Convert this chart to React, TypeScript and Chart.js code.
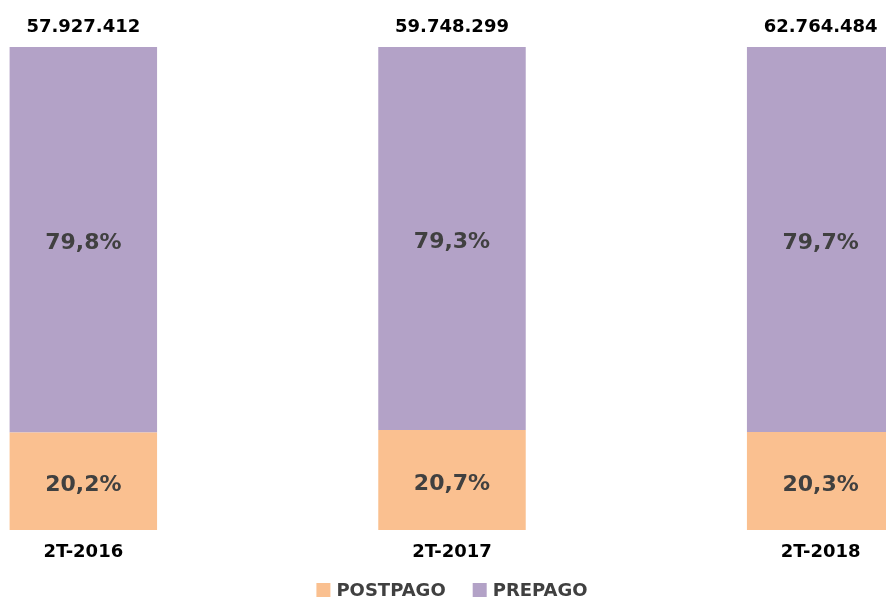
import React, { useEffect, useRef } from "react";
import { Chart, registerables } from "chart.js";

Chart.register(...registerables);

const categories = ["2T-2016", "2T-2017", "2T-2018"];
const postpago = [20.2, 20.7, 20.3];
const prepago = [79.8, 79.3, 79.7];
const totals = [57927412, 59748299, 62764484];
const seriesNames = ["POSTPAGO", "PREPAGO"];
const seriesColors = ["#FAC090", "#B3A2C7"];

const FONT = "'DejaVu Sans', sans-serif";

const fmtPct = (v: number) => v.toFixed(1).replace(".", ",") + "%";
const fmtTotal = (v: number) => String(v).replace(/\B(?=(\d{3})+(?!\d))/g, ".");

const labelsPlugin = {
  id: "customLabels",
  afterDatasetsDraw(chart: any) {
    const ctx = chart.ctx;
    ctx.save();
    ctx.textAlign = "center";
    ctx.textBaseline = "middle";
    // in-bar labels
    ctx.font = `bold 22px ${FONT}`;
    ctx.fillStyle = "#404040";
    chart.data.datasets.forEach((ds: any, di: number) => {
      const meta = chart.getDatasetMeta(di);
      meta.data.forEach((bar: any, i: number) => {
        const y = (bar.y + bar.base) / 2 + 4;
        ctx.fillText(fmtPct(ds.data[i]), bar.x, y);
      });
    });
    // totals
    const topMeta = chart.getDatasetMeta(chart.data.datasets.length - 1);
    ctx.font = `bold 18px ${FONT}`;
    ctx.fillStyle = "#000000";
    topMeta.data.forEach((bar: any, i: number) => {
      ctx.fillText(fmtTotal(totals[i]), bar.x, bar.y - 20);
    });
    // category labels
    const xs = chart.scales.x;
    const bottom = chart.chartArea.bottom;
    ctx.font = `bold 18px ${FONT}`;
    categories.forEach((c, i) => {
      ctx.fillText(c, xs.getPixelForValue(i), bottom + 22);
    });
    // legend
    ctx.font = `bold 18px ${FONT}`;
    const box = 14;
    const gapBox = 6;
    const gapItem = 27;
    const widths = seriesNames.map((n) => ctx.measureText(n).width);
    const total = widths.reduce((a, w) => a + box + gapBox + w, 0) + gapItem * (seriesNames.length - 1);
    const cx = (chart.chartArea.left + chart.chartArea.right) / 2;
    let x = cx - total / 2;
    const ly = bottom + 60;
    ctx.textAlign = "left";
    seriesNames.forEach((n, i) => {
      ctx.fillStyle = seriesColors[i];
      ctx.fillRect(x, ly - box / 2, box, box);
      x += box + gapBox;
      ctx.fillStyle = "#404040";
      ctx.fillText(n, x, ly + 1);
      x += widths[i] + gapItem;
    });
    ctx.restore();
  },
};

export default function App() {
  const ref = useRef<HTMLCanvasElement>(null);
  useEffect(() => {
    if (!ref.current) return;
    const chart = new Chart(ref.current, {
      type: "bar",
      data: {
        labels: categories,
        datasets: [
          { label: seriesNames[0], data: postpago, backgroundColor: seriesColors[0], borderWidth: 0 },
          { label: seriesNames[1], data: prepago, backgroundColor: seriesColors[1], borderWidth: 0 },
        ],
      },
      options: {
        animation: false,
        responsive: false,
        devicePixelRatio: 1,
        layout: { padding: { left: 0, right: 0, top: 47, bottom: 70 } },
        datasets: { bar: { barPercentage: 0.4, categoryPercentage: 1 } },
        scales: {
          x: { stacked: true, display: false },
          y: { stacked: true, display: false, min: 0, max: 100 },
        },
        plugins: { legend: { display: false }, tooltip: { enabled: false } },
      },
      plugins: [labelsPlugin],
    });
    return () => chart.destroy();
  }, []);
  return (
    <div style={{ position: "fixed", left: 0, top: 0, width: 886, height: 600, overflow: "hidden", background: "#fff" }}>
      <div style={{ position: "absolute", left: -101, top: 0, width: 1106, height: 600 }}>
        <canvas ref={ref} width={1106} height={600} style={{ display: "block" }} />
      </div>
    </div>
  );
}
